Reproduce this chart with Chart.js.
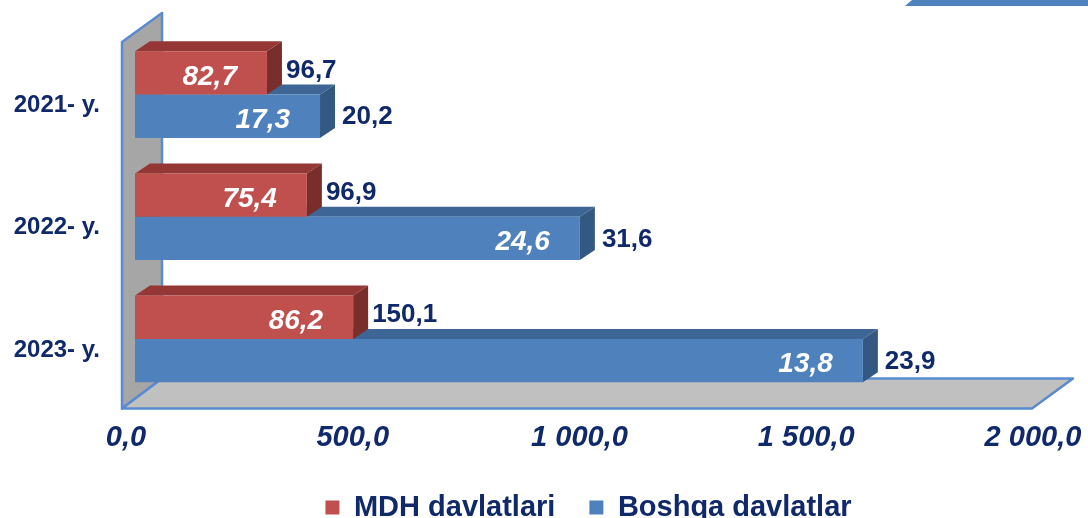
<!DOCTYPE html>
<html>
<head>
<meta charset="utf-8">
<script src="https://cdn.jsdelivr.net/npm/chart.js@4"></script>
<style>
  html, body { margin: 0; padding: 0; overflow: hidden; background: #fff; }
  #wrap { width: 1088px; height: 532px; position: relative; }
</style>
</head>
<body>
<div id="wrap"><canvas id="chart"></canvas></div>
<script>
const categories = ["2021- y.", "2022- y.", "2023- y."];
const seriesNames = ["MDH davlatlari", "Boshqa davlatlar"];
const mdhValues = [291, 379, 481];
const boshqaValues = [408, 981, 1605];
const mdhShare = ["82,7", "75,4", "86,2"];
const boshqaShare = ["17,3", "24,6", "13,8"];
const mdhGrowth = ["96,7", "96,9", "150,1"];
const boshqaGrowth = ["20,2", "31,6", "23,9"];
const xTicks = [0, 500, 1000, 1500, 2000];

const navy = "#10296b";
const font = "'Liberation Sans', Arial, sans-serif";
const faces = [
  { front: "#c0504d", top: "#953735", side: "#7a2e2c" },
  { front: "#4f81bd", top: "#3d6696", side: "#335882" }
];
const shares = [mdhShare, boshqaShare];
const growths = [mdhGrowth, boshqaGrowth];
const DX = 15, DY = -10;

function fmt(v) {
  const parts = v.toFixed(1).split(".");
  return parts[0].replace(/\B(?=(\d{3})+(?!\d))/g, " ") + "," + parts[1];
}

function poly(ctx, pts, fill, stroke) {
  ctx.beginPath();
  pts.forEach((p, k) => k ? ctx.lineTo(p[0], p[1]) : ctx.moveTo(p[0], p[1]));
  ctx.closePath();
  ctx.fillStyle = fill;
  ctx.fill();
  if (stroke) {
    ctx.strokeStyle = stroke;
    ctx.lineWidth = 2.5;
    ctx.lineJoin = "round";
    ctx.stroke();
  }
}

const decor = {
  id: "decor",
  beforeDatasetsDraw(chart) {
    const { ctx, chartArea: a } = chart;
    ctx.save();
    poly(ctx, [[905, 6], [912, 0], [1088, 0], [1088, 6]], "#4f81bd");

    // walls
    const fl = a.left - 13, bl = a.left + 27;
    const fb = a.bottom + 8.5, bb = a.bottom - 21.5;
    poly(ctx, [[fl, fb], [fl, a.top + 8.5], [bl, a.top - 20.5], [bl, bb]], "#a6a6a6", "#5a8ad0");
    poly(ctx, [[fl, fb], [a.right - 10, fb], [a.right + 31, bb], [bl, bb]], "#c0c0c0", "#5a8ad0");

    // top and side faces of bars
    categories.forEach((c, i) => {
      [1, 0].forEach(d => {
        const b = chart.getDatasetMeta(d).data[i];
        const t = b.y - b.height / 2, btm = b.y + b.height / 2;
        poly(ctx, [[b.base, t], [b.x, t], [b.x + DX, t + DY], [b.base + DX, t + DY]], faces[d].top);
        poly(ctx, [[b.x, t], [b.x + DX, t + DY], [b.x + DX, btm + DY], [b.x, btm]], faces[d].side);
      });
    });
    ctx.restore();
  },
  afterDatasetsDraw(chart) {
    const { ctx } = chart;
    ctx.save();
    ctx.textBaseline = "middle";
    [0, 1].forEach(d => {
      chart.getDatasetMeta(d).data.forEach((b, i) => {
        ctx.font = "italic bold 28px " + font;
        ctx.fillStyle = "#ffffff";
        ctx.textAlign = "right";
        ctx.fillText(shares[d][i], b.x - 30, b.y + 4);
        ctx.font = "bold 26px " + font;
        ctx.fillStyle = navy;
        ctx.textAlign = "left";
        ctx.fillText(growths[d][i], b.x + (d ? 22 : 19), b.y + (d ? 1 : -2));
      });
    });
    ctx.restore();
  }
};

new Chart(document.getElementById("chart"), {
  type: "bar",
  data: {
    labels: categories,
    datasets: [
      { label: seriesNames[0], data: mdhValues, backgroundColor: faces[0].front },
      { label: seriesNames[1], data: boshqaValues, backgroundColor: faces[1].front }
    ]
  },
  options: {
    indexAxis: "y",
    responsive: true,
    maintainAspectRatio: false,
    animation: false,
    layout: { padding: { top: 33.5, right: 46, left: 0, bottom: 0 } },
    datasets: { bar: { categoryPercentage: 0.71, barPercentage: 1 } },
    scales: {
      x: {
        min: 0,
        max: 2000,
        afterBuildTicks: s => { s.ticks = xTicks.map(v => ({ value: v })); },
        afterFit: s => { s.height = 59; s.paddingLeft = 0; s.paddingRight = 0; },
        grid: { display: false, drawTicks: false },
        border: { display: false },
        ticks: {
          padding: 21,
          labelOffset: -9,
          maxRotation: 0,
          color: navy,
          font: { family: font, size: 29, weight: "bold", style: "italic" },
          callback: v => fmt(v)
        }
      },
      y: {
        afterFit: s => { s.width = 135; s.paddingTop = 0; s.paddingBottom = 0; },
        grid: { display: false, drawTicks: false },
        border: { display: false },
        ticks: {
          padding: 35,
          labelOffset: 11,
          color: navy,
          font: { family: font, size: 24, weight: "bold" }
        }
      }
    },
    plugins: {
      legend: {
        position: "bottom",
        fullSize: false,
        labels: {
          boxWidth: 14,
          boxHeight: 14,
          padding: 34,
          color: navy,
          font: { family: font, size: 29, weight: "bold" }
        }
      },
      tooltip: { enabled: false }
    }
  },
  plugins: [decor]
});
</script>
</body>
</html>
